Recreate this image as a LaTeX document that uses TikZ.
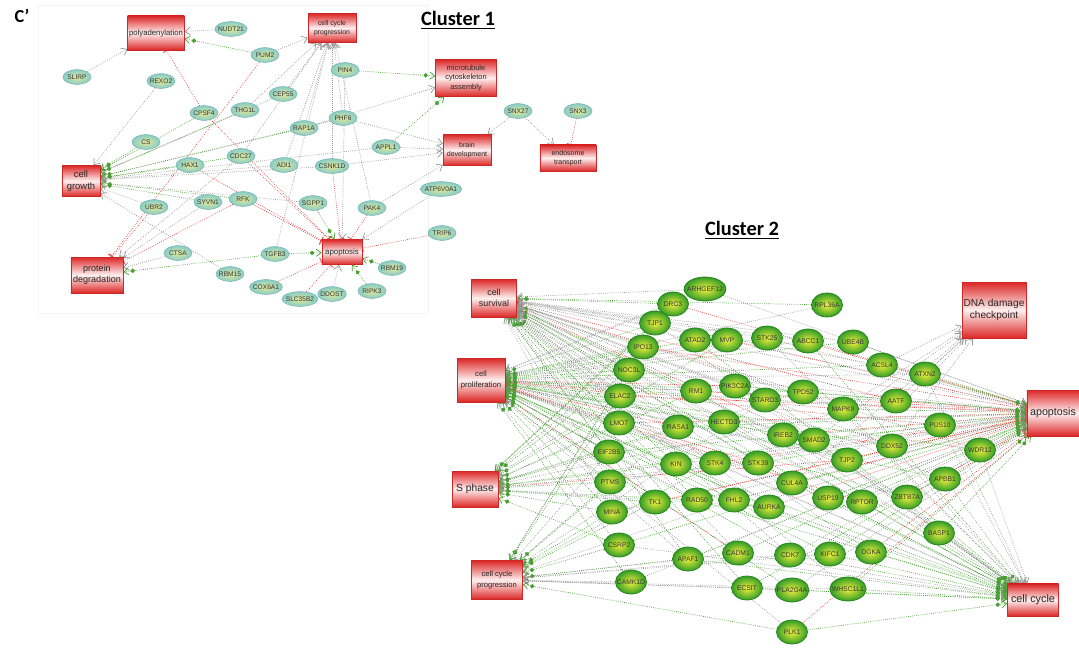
\documentclass[tikz,border=0pt]{standalone}
\usepackage{fontspec}
\setmainfont{Liberation Sans}
\newfontfamily\headfont{Carlito}
\usetikzlibrary{shapes.geometric, arrows.meta, backgrounds}

\definecolor{termred}{RGB}{220,38,38}
\definecolor{termedge}{RGB}{205,40,40}
\definecolor{tealout}{RGB}{135,205,200}
\definecolor{tealin}{RGB}{228,232,150}
\definecolor{greenout}{RGB}{52,158,38}
\definecolor{greenin}{RGB}{240,240,60}
\definecolor{greenedge}{RGB}{38,135,30}
\definecolor{linkgray}{RGB}{150,150,150}
\definecolor{linkgreen}{RGB}{72,160,52}
\definecolor{linkred}{RGB}{225,65,65}

\tikzset{
  term/.style={
    rectangle, draw=termedge, line width=0.4pt,
    top color=termred, bottom color=termred, middle color=red!6,
    align=center, inner sep=1pt, text=black!85,
  },
  gene/.style={
    ellipse, draw=tealout!85!black, line width=0.3pt,
    inner color=tealin, outer color=tealout,
    minimum width=20pt, minimum height=10.5pt,
    inner xsep=-1pt, inner ysep=0pt,
    font=\fontsize{4.7}{5}\selectfont, text=black!80,
  },
  biggene/.style={
    ellipse, draw=greenedge, line width=0.6pt,
    inner color=greenin, outer color=greenout,
    minimum width=22pt, minimum height=17pt,
    inner xsep=-2.2pt, inner ysep=0pt,
    font=\fontsize{4.8}{5}\selectfont, text=black!80,
  },
  lkg/.style={
    draw=linkgray, line width=0.5pt, densely dotted,
    -{Straight Barb[length=1.3mm, width=2mm]},
  },
  lkp/.style={
    draw=linkgreen, line width=0.5pt, densely dotted,
    -{Circle[length=1.1mm, sep=0.4mm] Straight Barb[length=1.2mm, width=1.8mm]},
  },
  lkn/.style={
    draw=linkred, line width=0.5pt, densely dotted,
    -{Bar[width=2mm]},
  },
  heading/.style={font=\headfont\bfseries\fontsize{14.5}{16}\selectfont},
}

\begin{document}
\begin{tikzpicture}[x=0.025cm, y=-0.025cm]
  \useasboundingbox (0,0) rectangle (1079,653);

  \node[heading, font=\headfont\bfseries\fontsize{13}{14}\selectfont] (panel) at (22,16) {C’};
  \node[heading] (title1) at (458,20) {\underline{Cluster 1}};
  \node[heading] (title2) at (742,230) {\underline{Cluster 2}};

  % cluster 1 terms
  \node[term, minimum width=39.8pt, minimum height=24.2pt, font=\fontsize{5.5}{6.5}\selectfont] (polya) at (156,33) {polyadenylation};
  \node[term, minimum width=34pt, minimum height=20.6pt, font=\fontsize{4.9}{6.2}\selectfont] (ccpA) at (332,28) {cell cycle\\progression};
  \node[term, minimum width=43.4pt, minimum height=26.3pt, font=\fontsize{5.3}{7}\selectfont] (micro) at (466,78) {microtubule\\cytoskeleton\\assembly};
  \node[term, minimum width=34pt, minimum height=22pt, font=\fontsize{5}{6.6}\selectfont] (brain) at (467,150) {brain\\development};
  \node[term, minimum width=40pt, minimum height=18.5pt, font=\fontsize{5}{6.4}\selectfont] (endo) at (568,158) {endosome\\transport};
  \node[term, minimum width=27pt, minimum height=22pt, font=\fontsize{6.7}{8}\selectfont] (growth) at (81,181) {cell\\growth};
  \node[term, minimum width=37pt, minimum height=25.6pt, font=\fontsize{6.4}{8}\selectfont] (degr) at (97,275) {protein\\degradation};
  \node[term, minimum width=28.5pt, minimum height=17.8pt, font=\fontsize{5.6}{6}\selectfont] (apoA) at (342,252) {apoptosis};

  % cluster 1 genes
  \foreach \n/\x/\y in {NUDT21/231/29, PUM2/265/55, SLIRP/77/77, REXO2/161/81,
      PIN4/345/70, CEP55/283/94, CPSF4/204/113, THG1L/245/110, RAP1A/304/128,
      PHF6/343/118, CS/146/142, HAX1/190/165, CDC27/241/156, ADI1/284/165,
      CSNK1D/332/166, APPL1/386/147, SNX27/518/111, SNX3/578/111,
      ATP6V0A1/441/189, UBR2/154/207, SYVN1/208/202, RFK/243/199,
      SGPP1/313/203, PAK4/372/208, TRIP6/442/233, CTSA/178/253,
      TGFB3/275/254, RBM15/230/274, RBM19/392/268, COX6A1/266/287,
      RIPK3/372/291, DDOST/332/294, SLC35B2/300/299}
    \node[gene] (\n) at (\x,\y) {\n};

  % cluster 2 terms
  \node[term, minimum width=32pt, minimum height=27pt, font=\fontsize{6.3}{8}\selectfont] (csv) at (494,298) {cell\\survival};
  \node[term, minimum width=34pt, minimum height=31pt, font=\fontsize{5.5}{7.5}\selectfont] (cpr) at (481,380) {cell\\proliferation};
  \node[term, minimum width=32.7pt, minimum height=25.6pt, font=\fontsize{7.3}{8}\selectfont] (sph) at (475,489) {S phase};
  \node[term, minimum width=36.3pt, minimum height=27.7pt, font=\fontsize{5.4}{7.2}\selectfont] (ccpB) at (497,580) {cell cycle\\progression};
  \node[term, minimum width=45.5pt, minimum height=39.8pt, font=\fontsize{7.2}{9}\selectfont] (dna) at (994,310) {DNA damage\\checkpoint};
  \node[term, minimum width=37pt, minimum height=32.7pt, font=\fontsize{7.6}{8}\selectfont] (apoB) at (1053,413) {apoptosis};
  \node[term, minimum width=36.3pt, minimum height=22.8pt, font=\fontsize{7.7}{8}\selectfont] (ccy) at (1033,600) {cell cycle};

  % cluster 2 genes
  \foreach \n/\x/\y in {ARHGEF12/705/289, DRC3/673/304, RPL36A/827/305,
      TJP1/655/323, IPO13/643/347, ATAD2/695/340, MVP/727/340, STK25/767/338,
      ABCC1/808/341, UBE4B/853/342, ACSL4/882/365, ATXN2/925/374,
      NOC3L/629/370, RM1/696/391, PIK3C2A/735/386, STARD3/765/400,
      TPD52/803/392, MAPK9/843/409, AATF/896/401, ELAC2/620/396,
      HECTD3/724/422, RASA1/678/427, IREB2/783/435, SMAD2/814/440,
      DDX52/892/446, PUS10/940/425, WDR12/980/450, LMO7/619/423,
      EIF2B5/609/452, KIN/676/464, STK4/715/463, STK39/758/463,
      TJP2/847/460, CUL4A/792/483, APBB1/945/479, PTMS/610/482,
      TK1/655/502, RAD50/697/500, FHL2/734/500, AURKA/769/507,
      USP19/828/498, RPTOR/862/502, ZBTB7A/907/497, BASP1/939/533,
      MINA/612/512, CSRP2/619/545, APAF1/688/559, CADM1/738/553,
      CDK7/790/555, KIFC1/830/554, DGKA/871/552, CAMK1D/631/582,
      ECSIT/747/588, PLA2G4A/792/590, WHSC1L1/848/589, PLK1/792/632}
    \node[biggene] (\n) at (\x,\y) {\n};

  \begin{pgfonlayer}{background}
    \draw[black!4, line width=0.6pt] (38,5) rectangle (428,313);

    % cluster 1 links
    \foreach \a/\b/\s in {NUDT21/polya/lkg, SLIRP/polya/lkg, PUM2/polya/lkp,
        CPSF4/polya/lkn, REXO2/growth/lkg, PUM2/ccpA/lkg, PUM2/degr/lkn,
        THG1L/ccpA/lkg, CEP55/ccpA/lkg, CEP55/growth/lkg, RAP1A/ccpA/lkg,
        RAP1A/growth/lkg, RAP1A/micro/lkg, PHF6/ccpA/lkg, PHF6/brain/lkg,
        PHF6/growth/lkp, PIN4/micro/lkp, PIN4/apoA/lkg, APPL1/brain/lkg,
        APPL1/micro/lkp, APPL1/growth/lkg, SNX27/brain/lkg, SNX27/endo/lkg,
        SNX3/endo/lkn, CPSF4/growth/lkp, CPSF4/apoA/lkn, THG1L/growth/lkp,
        CS/growth/lkp, HAX1/growth/lkp, HAX1/apoA/lkn, CDC27/ccpA/lkg,
        CDC27/growth/lkp, CDC27/degr/lkg, CDC27/apoA/lkn, ADI1/ccpA/lkg,
        ADI1/growth/lkg, CSNK1D/brain/lkg, CSNK1D/ccpA/lkg, CSNK1D/growth/lkg,
        CSNK1D/apoA/lkn, SYVN1/growth/lkp, SYVN1/degr/lkg, RFK/growth/lkp,
        RFK/apoA/lkn, RFK/degr/lkn, UBR2/growth/lkg, UBR2/degr/lkn,
        SGPP1/apoA/lkp, SGPP1/growth/lkg, PAK4/apoA/lkn, PAK4/ccpA/lkg,
        PAK4/brain/lkg, ATP6V0A1/apoA/lkg, TRIP6/apoA/lkn, CTSA/degr/lkg,
        TGFB3/apoA/lkp, TGFB3/degr/lkp, TGFB3/ccpA/lkg, RBM15/growth/lkg,
        RBM19/apoA/lkp, COX6A1/apoA/lkn, SLC35B2/apoA/lkn, DDOST/apoA/lkg,
        RIPK3/apoA/lkp}
      \draw[\s] (\a) -- (\b);

    % cluster 2 links
    \foreach \g/\lst in {
        ARHGEF12/{csv/lkg,cpr/lkg,apoB/lkg},
        DRC3/{csv/lkp,cpr/lkg,apoB/lkn,sph/lkp},
        RPL36A/{csv/lkp,cpr/lkg},
        TJP1/{csv/lkg,cpr/lkp,apoB/lkg,sph/lkp,ccy/lkg},
        IPO13/{csv/lkp,cpr/lkp,apoB/lkn,sph/lkg,ccpB/lkp},
        ATAD2/{csv/lkg,cpr/lkp,apoB/lkg,ccy/lkp},
        MVP/{csv/lkg,cpr/lkg,apoB/lkn,sph/lkp},
        STK25/{csv/lkg,cpr/lkp,apoB/lkg,ccy/lkg},
        ABCC1/{csv/lkg,cpr/lkg,apoB/lkn,ccy/lkp},
        UBE4B/{csv/lkg,cpr/lkp,apoB/lkg},
        ACSL4/{csv/lkg,cpr/lkp,dna/lkg,apoB/lkp},
        ATXN2/{cpr/lkg,dna/lkg,apoB/lkp,ccy/lkg},
        NOC3L/{csv/lkp,cpr/lkp,sph/lkp,apoB/lkg,ccpB/lkg},
        RM1/{csv/lkp,cpr/lkg,sph/lkp,apoB/lkn,ccy/lkp},
        PIK3C2A/{csv/lkg,cpr/lkn,apoB/lkp,ccy/lkg},
        STARD3/{csv/lkg,cpr/lkp,apoB/lkn,ccpB/lkg},
        TPD52/{csv/lkn,cpr/lkp,apoB/lkp,sph/lkg},
        MAPK9/{csv/lkg,cpr/lkn,dna/lkg,apoB/lkp,ccy/lkg},
        AATF/{csv/lkn,cpr/lkp,dna/lkg,apoB/lkn,sph/lkg},
        ELAC2/{csv/lkp,cpr/lkp,sph/lkg,apoB/lkn,ccpB/lkp},
        HECTD3/{csv/lkg,cpr/lkp,apoB/lkg,ccy/lkp},
        RASA1/{csv/lkg,cpr/lkn,sph/lkp,apoB/lkp,ccpB/lkg},
        IREB2/{csv/lkp,cpr/lkg,apoB/lkn,ccy/lkg},
        SMAD2/{csv/lkn,cpr/lkp,dna/lkg,apoB/lkp,ccy/lkg},
        DDX52/{csv/lkg,cpr/lkp,dna/lkg,apoB/lkn,ccy/lkg},
        PUS10/{cpr/lkn,sph/lkp,apoB/lkg,ccy/lkg},
        WDR12/{csv/lkg,cpr/lkp,apoB/lkp,ccy/lkg},
        LMO7/{csv/lkp,cpr/lkp,sph/lkg,apoB/lkn,ccy/lkg},
        EIF2B5/{csv/lkg,cpr/lkp,sph/lkp,apoB/lkp,ccpB/lkg},
        KIN/{csv/lkp,cpr/lkp,sph/lkp,apoB/lkg,ccy/lkp},
        STK4/{csv/lkg,cpr/lkp,apoB/lkn,ccpB/lkp,ccy/lkg},
        STK39/{csv/lkg,cpr/lkn,sph/lkg,apoB/lkp,ccy/lkp},
        TJP2/{cpr/lkg,sph/lkn,dna/lkg,apoB/lkp,ccy/lkg},
        CUL4A/{csv/lkp,cpr/lkg,apoB/lkn,ccy/lkp,dna/lkg},
        APBB1/{csv/lkg,cpr/lkp,apoB/lkn,ccy/lkg},
        PTMS/{csv/lkg,cpr/lkp,sph/lkp,ccpB/lkp,apoB/lkg},
        TK1/{csv/lkg,cpr/lkp,sph/lkp,apoB/lkn,ccpB/lkp},
        RAD50/{csv/lkp,cpr/lkg,sph/lkp,apoB/lkg,ccy/lkp},
        FHL2/{csv/lkg,cpr/lkp,apoB/lkp,ccpB/lkg,ccy/lkp},
        AURKA/{csv/lkg,cpr/lkp,sph/lkg,apoB/lkn,ccy/lkp},
        USP19/{csv/lkp,cpr/lkg,apoB/lkp,ccy/lkp},
        RPTOR/{csv/lkg,cpr/lkn,apoB/lkg,ccy/lkp},
        ZBTB7A/{csv/lkg,cpr/lkp,apoB/lkn,ccy/lkp},
        BASP1/{csv/lkg,apoB/lkp,ccy/lkp},
        MINA/{csv/lkg,cpr/lkp,sph/lkp,ccpB/lkp,apoB/lkn},
        CSRP2/{cpr/lkg,sph/lkp,ccpB/lkp,apoB/lkp,ccy/lkg},
        APAF1/{csv/lkp,cpr/lkg,ccpB/lkg,apoB/lkp,ccy/lkp},
        CADM1/{csv/lkg,cpr/lkn,ccpB/lkp,apoB/lkp,ccy/lkg},
        CDK7/{csv/lkg,cpr/lkp,ccpB/lkg,apoB/lkg,ccy/lkp},
        KIFC1/{cpr/lkp,ccpB/lkg,apoB/lkp,ccy/lkp},
        DGKA/{csv/lkg,cpr/lkp,apoB/lkn,ccy/lkp},
        CAMK1D/{ccpB/lkg,cpr/lkp,apoB/lkg},
        ECSIT/{csv/lkp,ccpB/lkg,apoB/lkp,ccy/lkp},
        PLA2G4A/{cpr/lkp,ccpB/lkg,apoB/lkg,ccy/lkp},
        WHSC1L1/{csv/lkg,ccpB/lkg,apoB/lkp,ccy/lkp},
        PLK1/{ccpB/lkp,cpr/lkg,apoB/lkn,ccy/lkp}}
      \foreach \t/\s in \lst {\draw[\s] (\g) -- (\t);}
  \end{pgfonlayer}

\end{tikzpicture}
\end{document}
